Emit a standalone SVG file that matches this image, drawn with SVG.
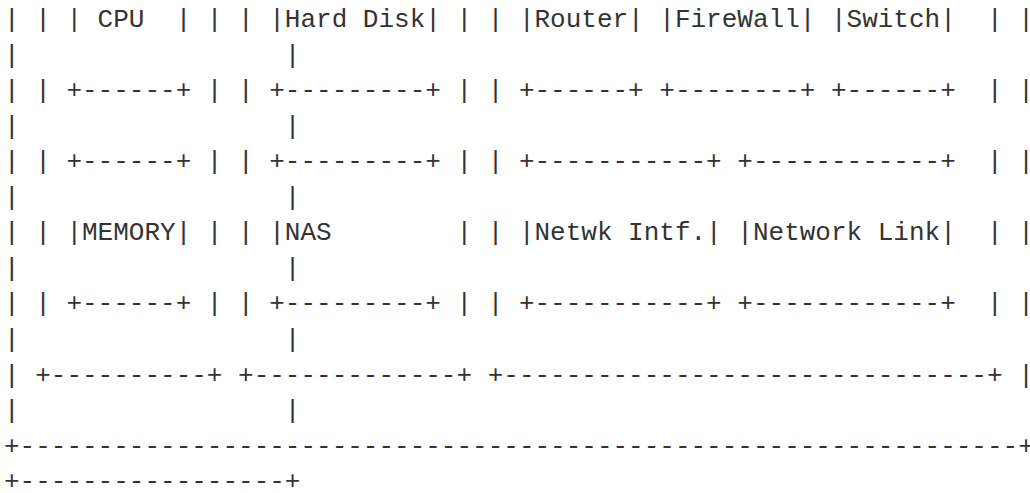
<svg xmlns="http://www.w3.org/2000/svg" width="1030" height="493" viewBox="0 0 1030 493" xml:space="preserve">
  <style>
    .t { font-family: "Liberation Mono", "DejaVu Sans Mono", monospace; font-size: 26px; fill: #333; white-space: pre; }
  </style>
  <rect width="1030" height="493" fill="#ffffff"/>
  <!-- Monospace block diagram, one text row per line -->
  <g id="ascii" class="t">
    <text xml:space="preserve" x="4" y="27">| | | CPU  | | | |Hard Disk| | | |Router| |FireWall| |Switch|  | |</text>
    <text xml:space="preserve" x="4" y="62.55">|                 |</text>
    <text xml:space="preserve" x="4" y="98.1">| | +------+ | | +---------+ | | +------+ +--------+ +------+  | |</text>
    <text xml:space="preserve" x="4" y="133.65">|                 |</text>
    <text xml:space="preserve" x="4" y="169.2">| | +------+ | | +---------+ | | +-----------+ +------------+  | |</text>
    <text xml:space="preserve" x="4" y="204.75">|                 |</text>
    <text xml:space="preserve" x="4" y="240.3">| | |MEMORY| | | |NAS        | | |Netwk Intf.| |Network Link|  | |</text>
    <text xml:space="preserve" x="4" y="275.85">|                 |</text>
    <text xml:space="preserve" x="4" y="311.4">| | +------+ | | +---------+ | | +-----------+ +------------+  | |</text>
    <text xml:space="preserve" x="4" y="346.95">|                 |</text>
    <text xml:space="preserve" x="4" y="382.5">| +----------+ +-------------+ +-------------------------------+ |</text>
    <text xml:space="preserve" x="4" y="418.05">|                 |</text>
    <text xml:space="preserve" x="4" y="453.6">+----------------------------------------------------------------+</text>
    <text xml:space="preserve" x="4" y="489.15">+-----------------+</text>
  </g>
</svg>
